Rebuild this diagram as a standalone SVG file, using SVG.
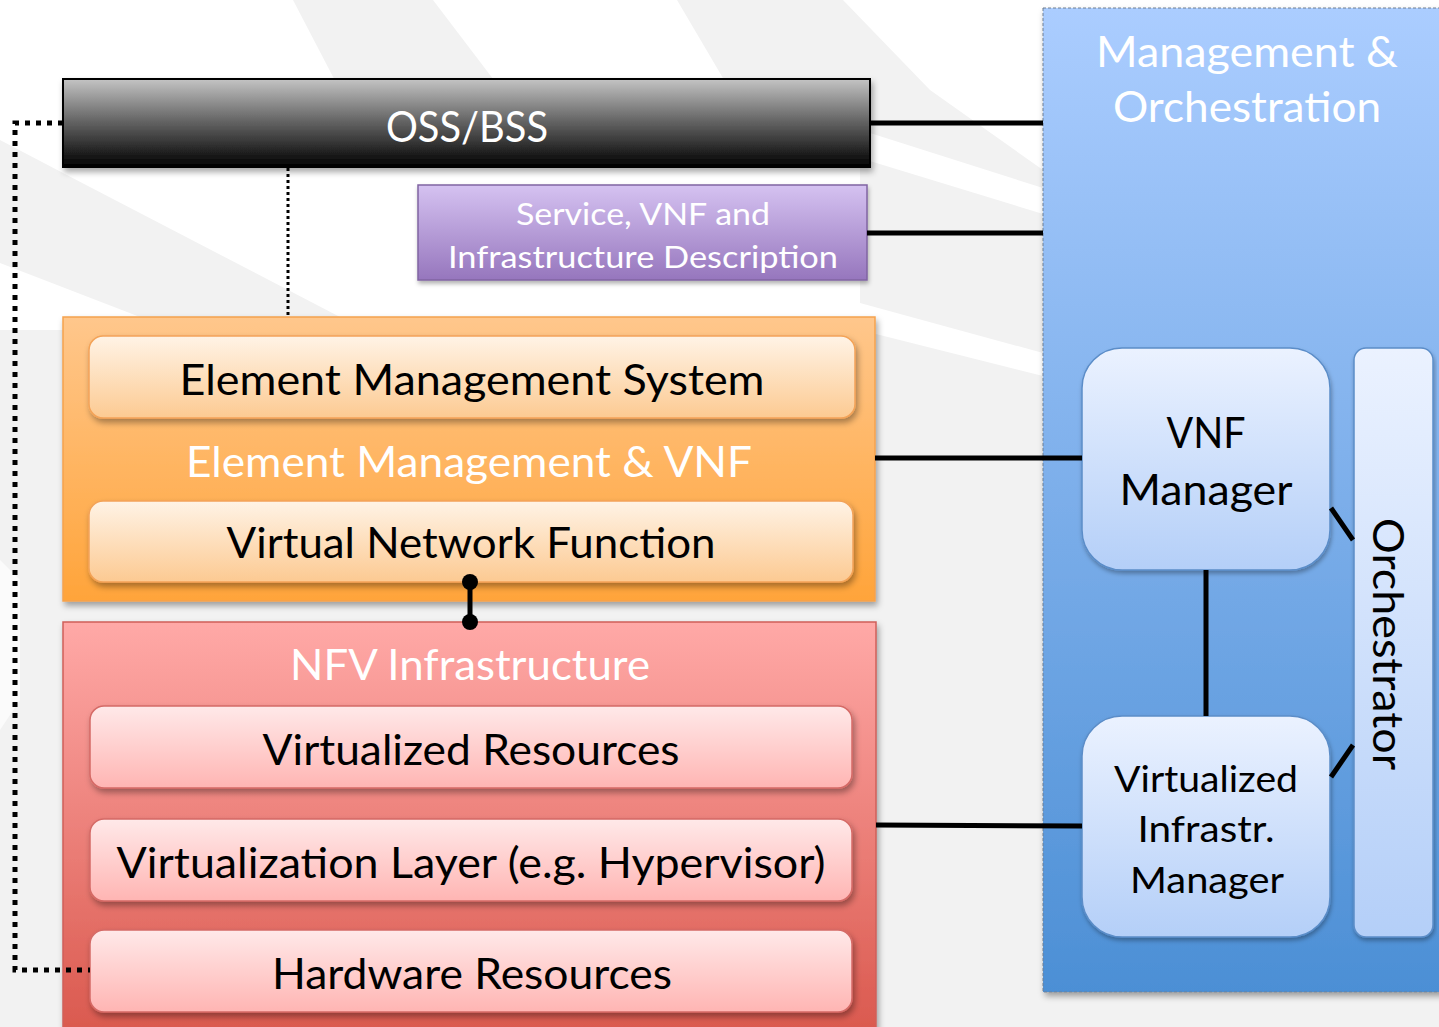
<svg xmlns="http://www.w3.org/2000/svg" width="1439" height="1027" viewBox="0 0 1439 1027">
  <defs>
    <linearGradient id="gOss" x1="0" y1="0" x2="0" y2="1">
      <stop offset="0" stop-color="#c4c4c4"/>
      <stop offset="0.45" stop-color="#6a6a6a"/>
      <stop offset="1" stop-color="#000"/>
    </linearGradient>
    <linearGradient id="gPurple" x1="0" y1="0" x2="0" y2="1">
      <stop offset="0" stop-color="#d5c2f1"/>
      <stop offset="1" stop-color="#9676bd"/>
    </linearGradient>
    <linearGradient id="gOrange" x1="0" y1="0" x2="0" y2="1">
      <stop offset="0" stop-color="#ffc78c"/>
      <stop offset="1" stop-color="#ffa43a"/>
    </linearGradient>
    <linearGradient id="gOrangeIn" x1="0" y1="0" x2="0" y2="1">
      <stop offset="0" stop-color="#fff3e6"/>
      <stop offset="1" stop-color="#fcca92"/>
    </linearGradient>
    <linearGradient id="gRed" x1="0" y1="0" x2="0" y2="1">
      <stop offset="0" stop-color="#ffa9a7"/>
      <stop offset="1" stop-color="#d9574c"/>
    </linearGradient>
    <linearGradient id="gRedIn" x1="0" y1="0" x2="0" y2="1">
      <stop offset="0" stop-color="#ffe9e9"/>
      <stop offset="1" stop-color="#ffb5b3"/>
    </linearGradient>
    <linearGradient id="gBlue" x1="0" y1="0" x2="0" y2="1">
      <stop offset="0" stop-color="#abcdff"/>
      <stop offset="1" stop-color="#4c8fd5"/>
    </linearGradient>
    <linearGradient id="gBlueIn" x1="0" y1="0" x2="0" y2="1">
      <stop offset="0" stop-color="#ebf2ff"/>
      <stop offset="1" stop-color="#b4cff8"/>
    </linearGradient>
    <filter id="shadow" x="-5%" y="-10%" width="110%" height="130%">
      <feDropShadow dx="2" dy="4" stdDeviation="3" flood-color="#000" flood-opacity="0.35"/>
    </filter>
    <filter id="shadowSm" x="-5%" y="-10%" width="110%" height="130%">
      <feDropShadow dx="1" dy="3" stdDeviation="2" flood-color="#000" flood-opacity="0.3"/>
    </filter>
  </defs>
  <style>
    text { font-family: Lato, "Liberation Sans", sans-serif; text-anchor: middle; }
    .wt { fill: #ffffff; }
    .bk { fill: #000000; }
    .big { font-size: 42px; }
    .mid { font-size: 37px; }
    .sm { font-size: 30px; }
    .solid { stroke: #000; stroke-width: 5; fill: none; }
    .dot { stroke: #000; fill: none; stroke-dasharray: 5 6; stroke-width: 5; }
    .dotThin { stroke: #000; fill: none; stroke-dasharray: 3 3; stroke-width: 3; }
  </style>

  <!-- slide background: white with pale grey swooshes -->
  <rect x="0" y="0" width="1439" height="1027" fill="#ffffff"/>
  <g fill="#f2f2f2">
    <polygon points="293,0 433,0 560,167 380,167"/>
    <polygon points="677,0 843,0 930,90 1043,170 1043,188 870,133 730,90"/>
    <polygon points="860,158 1043,214 1043,353 860,303"/>
    <polygon points="860,330 1043,376 1043,1027 860,1027"/>
    <polygon points="1043,990 1439,990 1439,1027 1043,1027"/>
    <polygon points="0,140 63,173 340,317 140,317 0,263"/>
    <polygon points="0,330 63,330 63,1027 0,1027"/>
    <polygon points="63,595 876,595 876,625 63,625"/>
  </g>
  <polygon points="0,560 20,580 20,700 0,730" fill="#fbfbfb"/>

  <!-- OSS/BSS -->
  <g id="oss-bss">
    <rect x="63" y="79" width="807" height="88" fill="url(#gOss)" stroke="#000" stroke-width="2" filter="url(#shadow)"/>
    <text class="wt big" x="467" y="142" textLength="162" lengthAdjust="spacingAndGlyphs">OSS/BSS</text>
  </g>

  <!-- Service, VNF and Infrastructure Description -->
  <g id="descriptions">
    <rect x="418" y="185" width="449" height="95" fill="url(#gPurple)" stroke="#8064a2" stroke-width="1.5" filter="url(#shadowSm)"/>
    <text class="wt sm" x="643" y="225" textLength="254" lengthAdjust="spacingAndGlyphs">Service, VNF and</text>
    <text class="wt sm" x="643" y="268" textLength="390" lengthAdjust="spacingAndGlyphs">Infrastructure Description</text>
  </g>

  <!-- Element Management & VNF -->
  <g id="em-vnf">
    <rect x="63" y="317" width="812" height="284" fill="url(#gOrange)" stroke="#f5a24e" stroke-width="1.5" filter="url(#shadow)"/>
    <text class="wt big" x="469" y="477" textLength="566" lengthAdjust="spacingAndGlyphs">Element Management &amp; VNF</text>
  </g>
  <g id="ems">
    <rect x="89" y="336" width="766" height="82" rx="14" fill="url(#gOrangeIn)" stroke="#f3a358" stroke-width="1.5" filter="url(#shadow)"/>
    <text class="bk big" x="472" y="395" textLength="585" lengthAdjust="spacingAndGlyphs">Element Management System</text>
  </g>
  <g id="vnf">
    <rect x="89" y="501" width="764" height="81" rx="14" fill="url(#gOrangeIn)" stroke="#f3a358" stroke-width="1.5" filter="url(#shadow)"/>
    <text class="bk big" x="471" y="558" textLength="489" lengthAdjust="spacingAndGlyphs">Virtual Network Function</text>
  </g>

  <!-- NFV Infrastructure -->
  <g id="nfvi">
    <rect x="63" y="622" width="813" height="420" fill="url(#gRed)" stroke="#cf5f5a" stroke-width="1.5" filter="url(#shadow)"/>
    <text class="wt big" x="470" y="680" textLength="360" lengthAdjust="spacingAndGlyphs">NFV Infrastructure</text>
  </g>
  <g id="virtualized-resources">
    <rect x="90" y="706" width="762" height="82" rx="14" fill="url(#gRedIn)" stroke="#d56a66" stroke-width="1.5" filter="url(#shadow)"/>
    <text class="bk big" x="471" y="765" textLength="417" lengthAdjust="spacingAndGlyphs">Virtualized Resources</text>
  </g>
  <g id="virtualization-layer">
    <rect x="90" y="819" width="762" height="82" rx="14" fill="url(#gRedIn)" stroke="#d56a66" stroke-width="1.5" filter="url(#shadow)"/>
    <text class="bk big" x="471" y="878" textLength="709" lengthAdjust="spacingAndGlyphs">Virtualization Layer (e.g. Hypervisor)</text>
  </g>
  <g id="hardware-resources">
    <rect x="90" y="930" width="762" height="82" rx="14" fill="url(#gRedIn)" stroke="#d56a66" stroke-width="1.5" filter="url(#shadow)"/>
    <text class="bk big" x="472" y="989" textLength="400" lengthAdjust="spacingAndGlyphs">Hardware Resources</text>
  </g>

  <!-- Management & Orchestration -->
  <g id="mano">
    <rect x="1043" y="8" width="410" height="984" fill="url(#gBlue)" stroke="#6f7f92" stroke-width="1" stroke-dasharray="3 2" filter="url(#shadow)"/>
    <text class="wt big" x="1247" y="67" textLength="302" lengthAdjust="spacingAndGlyphs">Management &amp;</text>
    <text class="wt big" x="1247" y="122" textLength="268" lengthAdjust="spacingAndGlyphs">Orchestration</text>
  </g>
  <g id="vnf-manager">
    <rect x="1082" y="348" width="248" height="222" rx="40" fill="url(#gBlueIn)" stroke="#5b8dc8" stroke-width="1.5" filter="url(#shadowSm)"/>
    <text class="bk big" x="1206" y="448" textLength="79" lengthAdjust="spacingAndGlyphs">VNF</text>
    <text class="bk big" x="1206" y="505" textLength="173" lengthAdjust="spacingAndGlyphs">Manager</text>
  </g>
  <g id="vim">
    <rect x="1082" y="716" width="248" height="221" rx="40" fill="url(#gBlueIn)" stroke="#5b8dc8" stroke-width="1.5" filter="url(#shadowSm)"/>
    <text class="bk mid" x="1206" y="792" textLength="184" lengthAdjust="spacingAndGlyphs">Virtualized</text>
    <text class="bk mid" x="1206" y="842" textLength="137" lengthAdjust="spacingAndGlyphs">Infrastr.</text>
    <text class="bk mid" x="1207" y="893" textLength="154" lengthAdjust="spacingAndGlyphs">Manager</text>
  </g>
  <g id="orchestrator">
    <rect x="1354" y="348" width="79" height="589" rx="12" fill="url(#gBlueIn)" stroke="#5b8dc8" stroke-width="1.5" filter="url(#shadowSm)"/>
    <text class="bk big" x="0" y="0" transform="translate(1373,644) rotate(90)" textLength="252" lengthAdjust="spacingAndGlyphs">Orchestrator</text>
  </g>

  <!-- connectors, drawn over the boxes they join -->
  <g id="connectors">
    <line class="solid" x1="870" y1="123" x2="1043" y2="123"/>
    <line class="solid" x1="867" y1="233" x2="1043" y2="233"/>
    <line class="solid" x1="875" y1="458" x2="1082" y2="458"/>
    <line class="solid" x1="876" y1="825" x2="1082" y2="826"/>
    <line class="solid" x1="1206" y1="570" x2="1206" y2="716"/>
    <line class="solid" x1="1331" y1="508" x2="1353" y2="540"/>
    <line class="solid" x1="1331" y1="777" x2="1353" y2="745"/>
    <polyline class="dot" points="63,123 15,123 15,970 90,970"/>
    <line class="dotThin" x1="288" y1="168" x2="288" y2="317"/>
    <line class="solid" x1="470" y1="582" x2="470" y2="622"/>
    <circle cx="470" cy="582" r="8" fill="#000"/>
    <circle cx="470" cy="622" r="8" fill="#000"/>
  </g>
</svg>
